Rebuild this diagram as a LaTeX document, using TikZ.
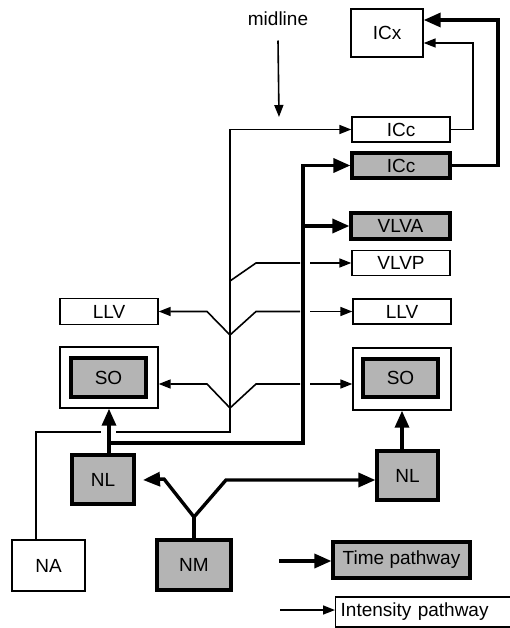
\documentclass[tikz,border=0pt]{standalone}
\usepackage{fontspec}
\setmainfont{Liberation Sans}
\usetikzlibrary{arrows.meta,positioning,calc}
\definecolor{stipple}{RGB}{180,180,180}
\newcommand{\figfont}{\fontsize{19}{21}\selectfont}
\tikzset{
  thinbox/.style={draw,line width=1.4pt,inner sep=0pt,font=\figfont},
  timebox/.style={draw,line width=3.2pt,fill=stipple,inner sep=0pt,font=\figfont},
  iline/.style={line width=1.6pt},
  tline/.style={line width=3.4pt},
  ipath/.style={iline,-{Triangle[length=12pt,width=9pt]}},
  tpath/.style={tline,-{Triangle[length=17pt,width=14pt]}},
}
\begin{document}
\begin{tikzpicture}[x=1pt,y=-1pt]
\useasboundingbox (0,0) rectangle (509,628);
% boxes, right column
\node[thinbox,minimum width=72pt,minimum height=48pt] (icx) at (387,33) {ICx};
\node[thinbox,minimum width=98pt,minimum height=25pt] (icci) at (401,129.5) {ICc};
\node[timebox,minimum width=98pt,minimum height=25pt] (icct) at (401,165.5) {ICc};
\node[timebox,minimum width=99pt,minimum height=26pt] (vlva) at (400.5,226) {VLVA};
\node[thinbox,minimum width=98pt,minimum height=25pt] (vlvp) at (401,263) {VLVP};
\node[thinbox,minimum width=98pt,minimum height=25pt] (llvr) at (402,311.5) {LLV};
\node[thinbox,minimum width=98pt,minimum height=62pt] (sor) at (402,379) {};
\node[timebox,minimum width=75pt,minimum height=38pt] (sori) at (400.5,378) {SO};
\node[timebox,minimum width=61pt,minimum height=49pt] (nlr) at (407.5,475.5) {NL};
% boxes, left column
\node[thinbox,minimum width=98pt,minimum height=26pt] (llvl) at (109,311.5) {LLV};
\node[thinbox,minimum width=98pt,minimum height=61pt] (sol) at (109,377.5) {};
\node[timebox,minimum width=75pt,minimum height=39pt] (soli) at (108.5,377.5) {SO};
\node[timebox,minimum width=62pt,minimum height=49pt] (nll) at (103,479.5) {NL};
\node[thinbox,minimum width=73pt,minimum height=51pt] (na) at (48.5,565.5) {NA};
\node[timebox,minimum width=74pt,minimum height=50pt] (nm) at (194,565) {NM};
% legend
\node[timebox,minimum width=137pt,minimum height=36pt] (timekey) at (401.5,560) {Time pathway};
\node[thinbox,anchor=west,text width=172pt,align=left,inner xsep=5pt,
  minimum height=30pt] (intkey) at (335,612) {Intensity pathway};
\node[font=\figfont] (midline) at (278,19) {midline};
\coordinate (midtip) at (279,117);
\coordinate (nacorner) at (36,432);
\coordinate (soy) at (0,384);
% intensity pathway
\draw[ipath] ([yshift=-11pt]midline.south) -- (midtip);
\draw[iline] (na.north -| nacorner) -- (nacorner) -- (101,432);
\draw[ipath] (116,432) -- (230,432) |- (icci.west);
\draw[ipath] (icci.east) -- (473,129.5) |- ([yshift=-10pt]icx.east);
\draw[iline] (230,281) -- (256,263) -- (300,263);
\draw[ipath] (310,263) -- (vlvp.west);
\draw[ipath] (230,335) -- (207,311.5) -- (llvl.east);
\draw[iline] (230,335) -- (256,311.5) -- (300,311.5);
\draw[ipath] (310,311.5) -- (llvr.west);
\draw[ipath] (230,408) -- (207,384) -- (sol.east |- soy);
\draw[iline] (230,408) -- (256,384) -- (300,384);
\draw[ipath] (310,384) -- (sor.west |- soy);
% time pathway
\draw[tline] (nm.north) -- (194,517);
\draw[tpath] (194,517) -- (164,479) -- (143,480);
\draw[tpath] (194,517) -- (226,480) -- (nlr.west |- 0,480);
\draw[tpath] (nll.north -| sol.south) -- (sol.south);
\draw[tpath] (nlr.north -| sor.south) -- (sor.south);
\draw[tpath] (sol.south |- 0,443) -- (303,443) |- (icct.west);
\draw[tpath] (303,226) -- (vlva.west);
\draw[tpath] (icct.east) -- (498,165.5) |- ([yshift=13pt]icx.east);
% legend arrows
\draw[tpath] (279,561) -- (timekey.west |- 0,561);
\draw[ipath] (280,610) -- (intkey.west |- 0,610);
\end{tikzpicture}
\end{document}
